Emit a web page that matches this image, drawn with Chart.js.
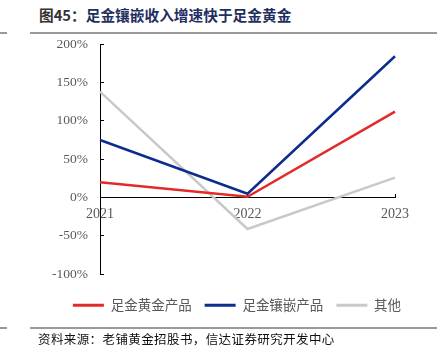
<!DOCTYPE html>
<html><head><meta charset="utf-8">
<script src="https://cdn.jsdelivr.net/npm/chart.js@4"></script>
<style>
html,body{margin:0;padding:0;background:#fff;}
#wrap{position:relative;width:444px;height:362px;overflow:hidden;}
#title{position:absolute;left:39px;top:4px;font:bold 14.7px "Noto Sans CJK SC",sans-serif;color:#1F2F5F;white-space:nowrap;}
#title .pre{color:#333;}
.rule{position:absolute;height:2px;background:#999;}
#src{position:absolute;left:38px;top:329px;font:12.5px "Noto Sans CJK SC",sans-serif;color:#111;white-space:nowrap;letter-spacing:0.4px;}
canvas{position:absolute;left:0;top:0;}
</style></head>
<body><div id="wrap">
<div id="title"><span class="pre">图45：</span>足金镶嵌收入增速快于足金黄金</div>
<div class="rule" style="left:0;top:32px;width:7px"></div>
<div class="rule" style="left:30px;top:32px;width:407px"></div>
<canvas id="c" width="444" height="362"></canvas>
<div class="rule" style="left:0;top:327px;width:7px"></div>
<div class="rule" style="left:30px;top:327px;width:407px"></div>
<div id="src">资料来源：老铺黄金招股书，信达证券研究开发中心</div>
</div>
<script>
const categories = ['2021', '2022', '2023'];
const goldProducts = [20, 1, 112];
const inlaidProducts = [75, 5, 184];
const others = [138, -41, 26];
const yTicks = [-100, -50, 0, 50, 100, 150, 200];

const shiftLegend = {
  id: 'shiftLegend',
  afterLayout(chart) {
    const lg = chart.legend;
    if (lg) { lg.left = 30; lg.right = 444; lg.width = 414; }
  }
};

const ctx = document.getElementById('c');
new Chart(ctx, {
  type: 'line',
  data: {
    labels: categories,
    datasets: [
      {label: '足金黄金产品', data: goldProducts, borderColor: '#E32A2A', backgroundColor: '#E32A2A'},
      {label: '足金镶嵌产品', data: inlaidProducts, borderColor: '#0E2C8E', backgroundColor: '#0E2C8E'},
      {label: '其他', data: others, borderColor: '#C9C9C9', backgroundColor: '#C9C9C9'}
    ]
  },
  plugins: [shiftLegend],
  options: {
    responsive: false,
    animation: false,
    elements: {line: {borderWidth: 2.5, tension: 0}, point: {radius: 0}},
    layout: {padding: {top: 44, left: 0, right: 49, bottom: 40}},
    plugins: {
      tooltip: {enabled: false},
      legend: {
        position: 'bottom',
        align: 'center',
        title: {display: true, text: '', font: {size: 1}, padding: {top: 10, bottom: 0}},
        labels: {
          boxWidth: 31, boxHeight: 3, padding: 13,
          color: '#595959',
          font: {family: '"Noto Sans CJK SC", sans-serif', size: 13.5},
          generateLabels: (chart) => chart.data.datasets.map((d, i) => ({
            text: d.label, fillStyle: d.borderColor, strokeStyle: d.borderColor,
            lineWidth: 0, datasetIndex: i, hidden: false, fontColor: '#595959'
          }))
        }
      }
    },
    scales: {
      x: {
        type: 'category',
        position: {y: 0},
        offset: false,
        grid: {drawOnChartArea: false, drawTicks: true, tickLength: -4, color: '#000'},
        border: {color: '#000', width: 1},
        ticks: {color: '#595959', font: {family: '"Liberation Serif", serif', size: 14}, padding: 12, maxRotation: 0}
      },
      y: {
        min: -100, max: 200,
        afterBuildTicks: (s) => { s.ticks = yTicks.map(v => ({value: v})); },
        afterFit: (s) => { s.width = 100; },
        grid: {drawOnChartArea: false, drawTicks: true, tickLength: -4, color: '#000'},
        border: {color: '#000', width: 1},
        ticks: {color: '#595959', font: {family: '"Liberation Serif", serif', size: 13.5}, padding: 16,
          callback: (v) => v + '%'}
      }
    }
  }
});
</script>
</body></html>
